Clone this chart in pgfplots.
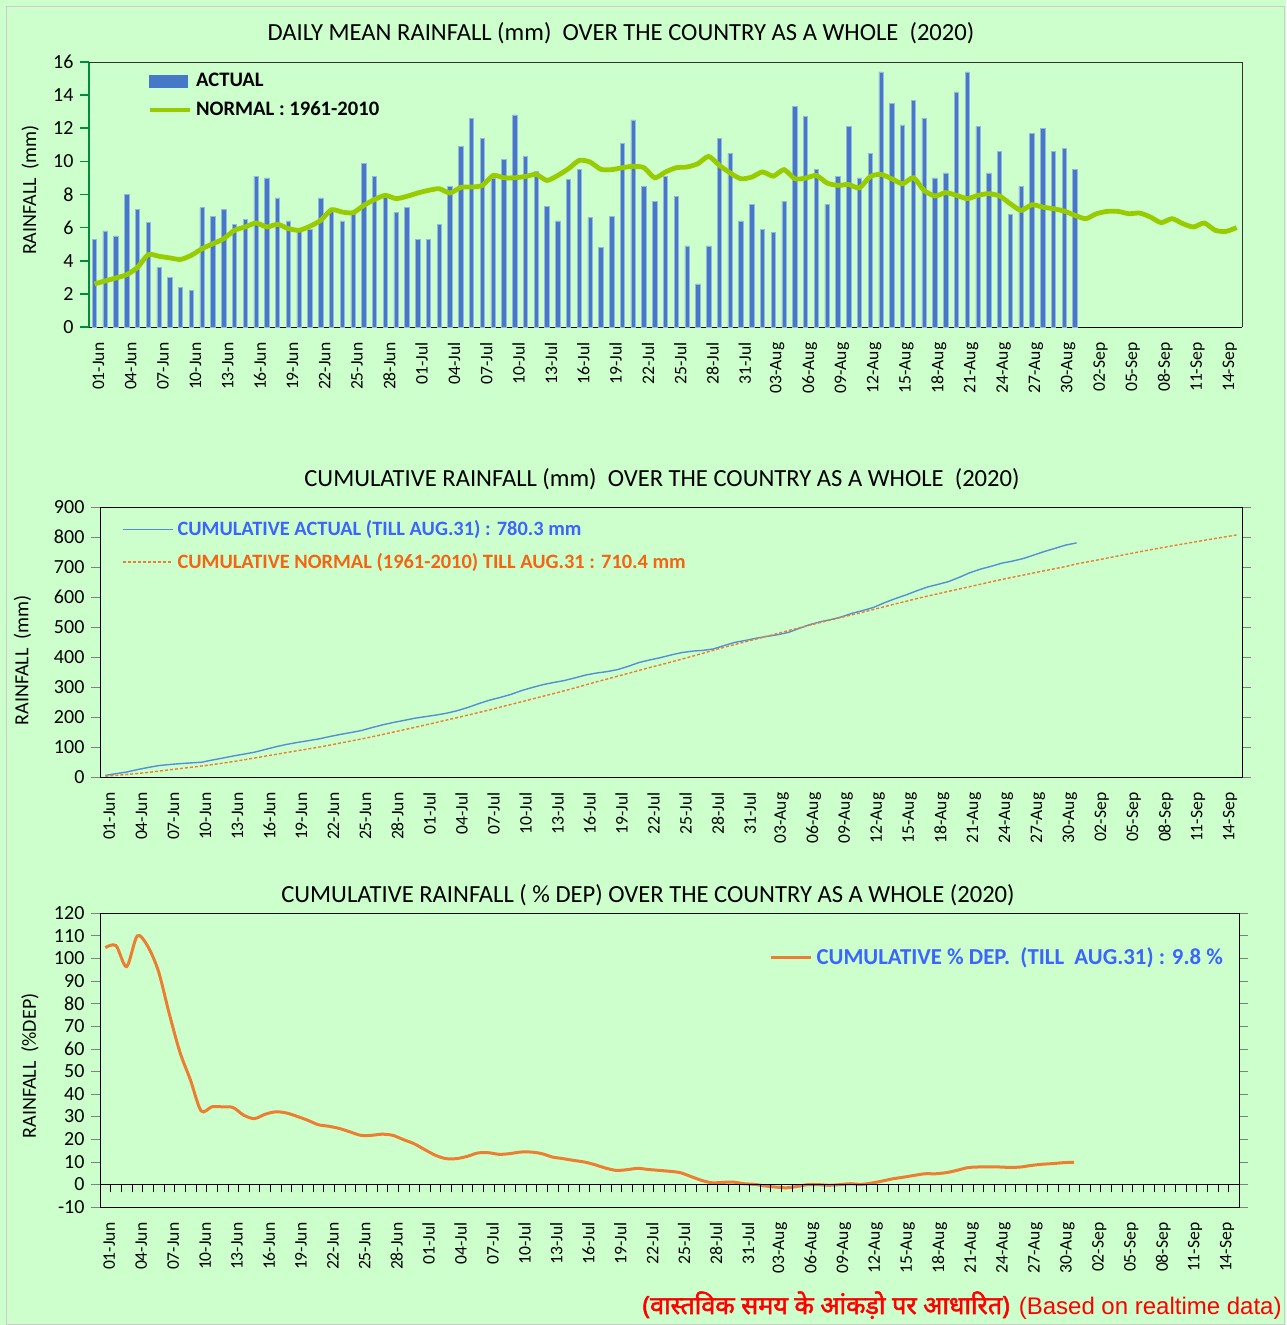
\documentclass[border=0pt]{standalone}
\usepackage{pgfplots}
\usepackage{pgfplotstable}
\pgfplotsset{compat=1.18}
\usepackage{fontspec}
\setmainfont{Carlito}
\newfontfamily\deva[Script=Devanagari, FakeBold=2]{Noto Sans}
\newfontfamily\arial{Liberation Sans}
\newcommand\fs[1]{\fontsize{#1}{#1}\selectfont}
\definecolor{bg}{RGB}{204,255,204}
\definecolor{barblue}{RGB}{70,120,200}
\definecolor{lgreen}{RGB}{153,204,0}
\definecolor{lineblue}{RGB}{85,142,213}
\definecolor{orng}{RGB}{237,125,49}
\definecolor{txtblue}{RGB}{60,100,255}
\definecolor{txtorange}{RGB}{245,100,20}
\definecolor{axgreen}{RGB}{0,140,60}

\pgfplotstableread{
d act cum pct
1 5.3 5.3 104.7
2 5.8 11.1 105.6
3 5.5 16.6 96.3
4 8.0 24.6 109.9
5 7.1 31.7 105.2
6 6.3 38.0 94.1
7 3.6 41.6 75.6
8 3.0 44.6 58.6
9 2.4 47.0 46.1
10 2.2 49.2 32.5
11 7.2 56.4 34.3
12 6.7 63.1 34.3
13 7.1 70.2 34.0
14 6.2 76.4 30.6
15 6.5 82.9 29.1
16 9.1 92.0 31.0
17 9.0 101.0 32.1
18 7.8 108.8 31.6
19 6.4 115.2 30.1
20 5.8 121.0 28.4
21 5.9 126.9 26.4
22 7.8 134.7 25.7
23 7.1 141.8 24.7
24 6.4 148.2 23.2
25 6.8 155.0 21.7
26 9.9 164.9 21.7
27 9.1 174.0 22.2
28 7.9 181.9 21.7
29 6.9 188.8 19.8
30 7.2 196.0 18.0
31 5.3 201.3 15.4
32 5.3 206.6 12.9
33 6.2 212.8 11.4
34 8.5 221.3 11.4
35 10.9 232.2 12.4
36 12.6 244.8 13.9
37 11.4 256.2 14.0
38 9.0 265.2 13.3
39 10.1 275.3 13.6
40 12.8 288.1 14.3
41 10.3 298.4 14.3
42 9.4 307.8 13.6
43 7.3 315.1 12.1
44 6.4 321.5 11.4
45 8.9 330.4 10.6
46 9.5 339.9 9.9
47 6.6 346.5 8.7
48 4.8 351.3 7.2
49 6.7 358.0 6.2
50 11.1 369.1 6.5
51 12.5 381.6 7.1
52 8.5 390.1 6.6
53 7.6 397.7 6.2
54 9.1 406.8 5.8
55 7.9 414.7 5.2
56 4.9 419.6 3.5
57 2.6 422.2 1.8
58 4.9 427.1 0.7
59 11.4 438.5 0.9
60 10.5 449.0 1.0
61 6.4 455.4 0.3
62 7.4 462.8 0.0
63 5.9 468.7 -0.7
64 5.7 474.4 -1.2
65 7.6 482.0 -1.5
66 13.3 495.3 -0.9
67 12.7 508.0 -0.1
68 9.5 517.5 -0.1
69 7.4 524.9 -0.4
70 9.1 534.0 -0.1
71 12.1 546.1 0.3
72 9.0 555.1 0.0
73 10.5 565.6 0.6
74 15.4 581.0 1.5
75 13.5 594.5 2.5
76 12.2 606.7 3.2
77 13.7 620.4 4.0
78 12.6 633.0 4.7
79 9.0 642.0 4.7
80 9.3 651.3 5.2
81 14.2 665.5 6.2
82 15.4 680.9 7.4
83 12.1 693.0 7.7
84 9.3 702.3 7.7
85 10.6 712.9 7.7
86 6.8 719.7 7.5
87 8.5 728.2 7.7
88 11.7 739.9 8.4
89 12.0 751.9 8.9
90 10.6 762.5 9.2
91 10.8 773.3 9.6
92 9.5 780.3 9.8
}\actual

\pgfplotstableread{
d nor ncum
1 2.60 2.6
2 2.78 5.4
3 2.96 8.4
4 3.16 11.6
5 3.60 15.2
6 4.37 19.6
7 4.27 23.9
8 4.17 28.1
9 4.08 32.2
10 4.33 36.5
11 4.73 41.2
12 5.03 46.2
13 5.33 51.5
14 5.84 57.3
15 6.04 63.3
16 6.28 69.6
17 6.04 75.6
18 6.20 81.8
19 5.94 87.7
20 5.84 93.5
21 6.08 99.6
22 6.44 106.0
23 7.08 113.1
24 6.94 120.0
25 6.90 126.9
26 7.34 134.2
27 7.70 141.9
28 7.95 149.8
29 7.75 157.6
30 7.89 165.5
31 8.09 173.6
32 8.25 181.8
33 8.35 190.1
34 8.09 198.2
35 8.43 206.6
36 8.45 215.1
37 8.55 223.7
38 9.15 232.9
39 9.01 241.9
40 9.01 250.9
41 9.09 260.0
42 9.21 269.2
43 8.85 278.1
44 9.15 287.3
45 9.56 296.9
46 10.06 307.0
47 9.96 317.0
48 9.52 326.5
49 9.50 336.0
50 9.62 345.6
51 9.70 355.3
52 9.62 364.9
53 9.01 373.9
54 9.36 383.3
55 9.62 392.9
56 9.66 402.6
57 9.86 412.5
58 10.30 422.8
59 9.76 432.6
60 9.30 441.9
61 8.95 450.9
62 9.05 460.0
63 9.36 469.4
64 9.11 478.5
65 9.50 488.0
66 8.95 497.0
67 8.99 506.0
68 9.15 515.2
69 8.69 523.9
70 8.55 532.5
71 8.60 541.1
72 8.40 549.5
73 9.09 558.6
74 9.21 567.8
75 8.95 576.8
76 8.65 585.5
77 9.01 594.5
78 8.25 602.8
79 7.91 610.7
80 8.11 618.8
81 7.95 626.8
82 7.75 634.6
83 7.95 642.6
84 8.05 650.7
85 7.91 658.6
86 7.44 666.0
87 7.04 673.0
88 7.38 680.4
89 7.24 687.6
90 7.14 694.7
91 7.00 701.7
92 6.74 710.4
93 6.54 716.9
94 6.84 723.7
95 6.98 730.7
96 6.98 737.7
97 6.84 744.5
98 6.88 751.4
99 6.64 758.0
100 6.30 764.3
101 6.54 770.8
102 6.24 777.0
103 6.04 783.0
104 6.28 789.3
105 5.84 795.1
106 5.77 800.9
107 6.00 806.9
}\normal

\pgfplotsset{
  datex/.style={
    xmin=0.5, xmax=107.5,
    xtick={1,4,...,106},
    xticklabels={01-Jun,04-Jun,07-Jun,10-Jun,13-Jun,16-Jun,19-Jun,22-Jun,25-Jun,28-Jun,01-Jul,04-Jul,07-Jul,10-Jul,13-Jul,16-Jul,19-Jul,22-Jul,25-Jul,28-Jul,31-Jul,03-Aug,06-Aug,09-Aug,12-Aug,15-Aug,18-Aug,21-Aug,24-Aug,27-Aug,30-Aug,02-Sep,05-Sep,08-Sep,11-Sep,14-Sep},
    x tick label style={rotate=90, anchor=east, font=\fs{8.8}, yshift=-2pt},
    major x tick style={draw=none},
    minor x tick style={black, thin},
    minor tick length=5pt,
  },
  base/.style={
    scale only axis,
    anchor=south west,
    tick align=outside,
    /pgf/number format/assume math mode=true,
    y tick label style={font=\fs{10}},
    ylabel style={font=\fs{10}, anchor=center},
    legend cell align=left,
    clip=false,
  },
}

\begin{document}
\begin{tikzpicture}
\useasboundingbox (0,0) rectangle (643pt,-662.5pt);
\fill[bg] (0,0) rectangle (643pt,-662.5pt);
\draw[gray!40] (3pt,-3pt) rectangle (642pt,-662pt);

% titles
\node[font=\fs{12.3}] at (310.5pt,-16.5pt) {DAILY MEAN RAINFALL (mm)\ \ OVER THE COUNTRY AS A WHOLE\ \ (2020)};
\node[font=\fs{12.3}] at (331pt,-239.5pt) {CUMULATIVE RAINFALL (mm)\ \ OVER THE COUNTRY AS A WHOLE\ \ (2020)};
\node[font=\fs{12.3}] at (324pt,-447.5pt) {CUMULATIVE RAINFALL ( \% DEP) OVER THE COUNTRY AS A WHOLE (2020)};

% ---------- panel 1 ----------
\begin{axis}[base, datex,
  at={(44.5pt,-163.5pt)}, width=576.5pt, height=132.5pt,
  ymin=0, ymax=16, ytick={0,2,...,16},
  axis x line*=bottom, axis y line*=left,
  y axis line style={axgreen, line width=0.8pt},
  ytick style={axgreen, line width=0.8pt},
  x axis line style={black},
  ylabel={RAINFALL\ \ (mm)},
  ylabel style={at={(axis description cs:-0.051,0.517)}},
  legend style={at={(0.045,0.99)}, anchor=north west, draw=none, fill=none,
    font=\bfseries\fs{10.3}, row sep=2pt},
  after end axis/.code={\draw[black!80] (rel axis cs:0,1) -- (rel axis cs:1,1) -- (rel axis cs:1,0);},
]
\addplot[ybar, bar width=2.2pt, fill=barblue, draw=barblue!55!white, line width=0.3pt,
  legend image code/.code={\fill[barblue] (0pt,-3pt) rectangle (19pt,3pt);}]
  table[x=d, y=act] {\actual};
\addlegendentry{ACTUAL}
\addplot[lgreen, line width=2.4pt, smooth, tension=0.4,
  legend image code/.code={\draw[lgreen, line width=2.4pt] (0pt,0pt) -- (20pt,0pt);}]
  table[x=d, y=nor] {\normal};
\addlegendentry{NORMAL : 1961-2010}
\end{axis}

% ---------- panel 2 ----------
\begin{axis}[base, datex,
  at={(50pt,-388.5pt)}, width=571pt, height=135pt,
  ymin=0, ymax=900, ytick={0,100,...,900},
  ylabel={RAINFALL\ \ (mm)},
  ylabel style={at={(axis description cs:-0.068,0.433)}},
  legend style={at={(0.014,0.98)}, anchor=north west, draw=none, fill=none,
    font=\bfseries\fs{10.2}, row sep=3pt},
]
\addplot[lineblue, line width=0.7pt,
  legend image code/.code={\draw[lineblue, line width=0.6pt] (0pt,0pt) -- (25pt,0pt);}]
  table[x=d, y=cum] {\actual};
\addlegendentry{\textcolor{txtblue}{CUMULATIVE ACTUAL (TILL AUG.31) : 780.3 mm}}
\addplot[orng, line width=0.7pt, dash pattern=on 1.5pt off 1pt,
  legend image code/.code={\draw[orng, line width=0.6pt, dash pattern=on 1.5pt off 1pt] (0pt,0pt) -- (25pt,0pt);}]
  table[x=d, y=ncum] {\normal};
\addlegendentry{\textcolor{txtorange}{CUMULATIVE NORMAL (1961-2010) TILL AUG.31 : 710.4 mm}}
\end{axis}

% ---------- panel 3 ----------
\begin{axis}[base, datex,
  at={(50pt,-603.5pt)}, width=569.5pt, height=147pt,
  ymin=-10, ymax=120, ytick={-10,0,...,120},
  minor x tick style={draw=none},
  ylabel={RAINFALL\ \ (\%DEP)},
  ylabel style={at={(axis description cs:-0.0615,0.48)}},
  legend style={at={(0.995,0.91)}, anchor=north east, draw=none, fill=none,
    font=\bfseries\fs{11.4}, text=txtblue},
]
\addplot[orng, line width=1.5pt, smooth, tension=0.5,
  legend image code/.code={\draw[orng, line width=1.5pt] (0pt,0pt) -- (20pt,0pt);}]
  table[x=d, y=pct] {\actual};
\addlegendentry{CUMULATIVE \% DEP.\ \ (TILL\ \ AUG.31) : 9.8 \%}
\end{axis}
\begin{axis}[scale only axis, anchor=south west,
  at={(50pt,-603.5pt)}, width=569.5pt, height=147pt,
  xmin=0.5, xmax=107.5, ymin=-10, ymax=120,
  axis x line=middle, axis y line=none,
  axis line style={-, black},
  xtick={0.5,1.5,...,107.5}, xticklabels={},
  x tick label style={opacity=0, text opacity=0},
  tick align=outside, major tick length=4pt,
  xtick style={black},
]
\end{axis}

% footnote
\node[anchor=base east, text=red, inner sep=0pt] at (641pt,-657pt)
  {{\deva\fs{12.6}(वास्तविक समय के आंकड़ो पर आधारित)}\ \ {\arial\fs{12}(Based on realtime data)}};
\end{tikzpicture}
\end{document}
